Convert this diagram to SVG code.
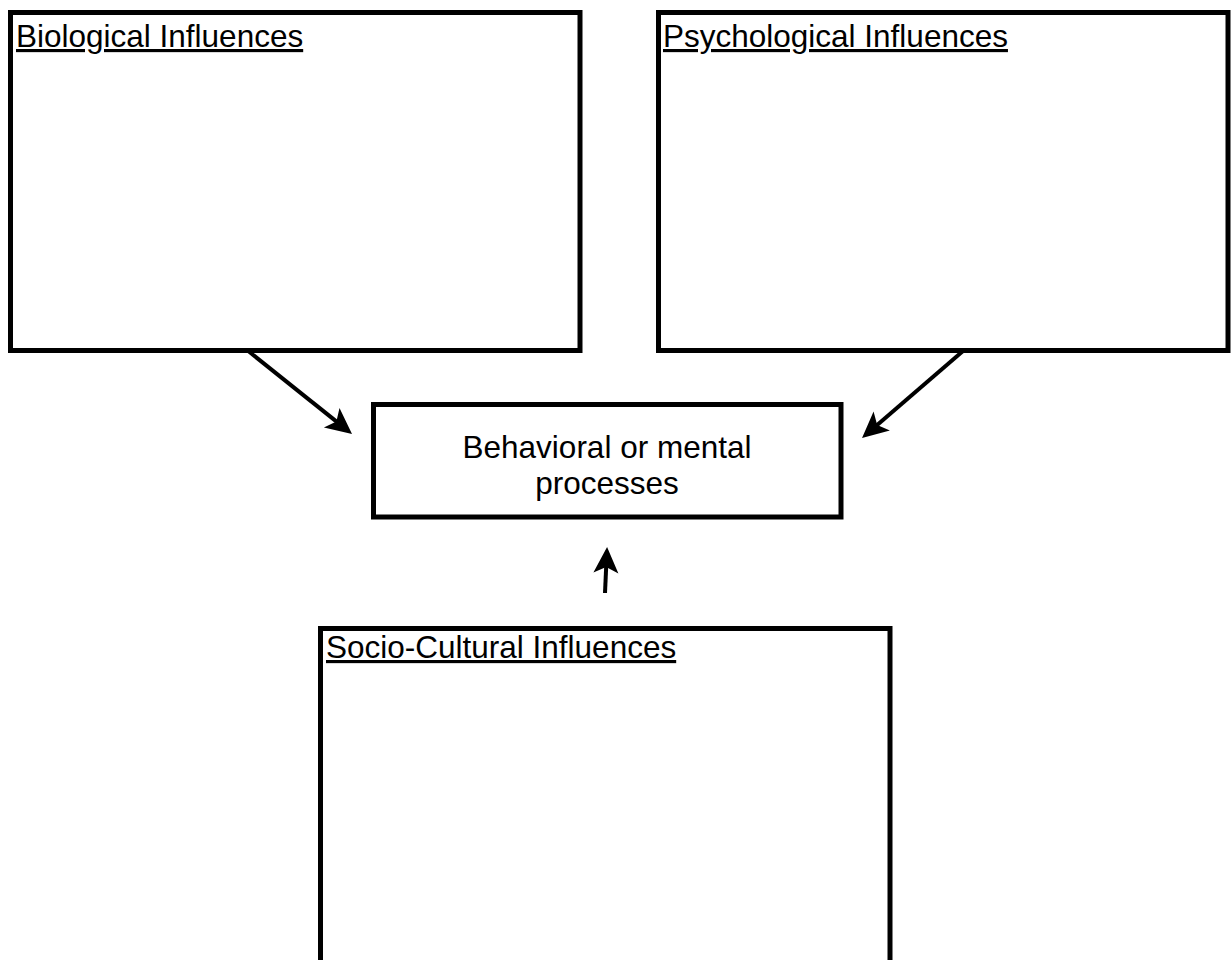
<svg xmlns="http://www.w3.org/2000/svg" width="1231" height="960" viewBox="0 0 1231 960">
<defs>
<style>
.box{fill:#fff;stroke:#000;stroke-width:5}
.title{font-family:"Liberation Sans",Arial,sans-serif;font-size:31.5px;fill:#000;text-decoration:underline}
.label{font-family:"Liberation Sans",Arial,sans-serif;font-size:31.5px;fill:#000;text-anchor:middle}
.conn{stroke:#000;stroke-width:4;fill:none;marker-end:url(#arrow)}
</style>
<marker id="arrow" markerUnits="userSpaceOnUse" markerWidth="40" markerHeight="40" viewBox="-15 -20 40 40" refX="0" refY="0" orient="auto" overflow="visible">
<path d="M15,0 L-11,-12.5 L-5,0 L-11,12.5 Z" fill="#000"/>
</marker>
</defs>
<rect width="1231" height="960" fill="#fff"/>
<g id="biological">
<rect class="box" x="10.5" y="12.5" width="569.5" height="338"/>
<text class="title" x="16" y="47">Biological Influences</text>
</g>
<g id="psychological">
<rect class="box" x="658.5" y="12.5" width="569.5" height="338"/>
<text class="title" x="663" y="47">Psychological Influences</text>
</g>
<g id="behavioral">
<rect class="box" x="373.5" y="404.5" width="467.5" height="112.5"/>
<text class="label" x="607" y="458">Behavioral or mental</text>
<text class="label" x="607" y="494">processes</text>
</g>
<g id="sociocultural">
<rect class="box" x="320.5" y="628.5" width="569.5" height="360"/>
<text class="title" x="326" y="658">Socio-Cultural Influences</text>
</g>
<g id="connectors">
<line class="conn" x1="247" y1="350" x2="340.3" y2="424.6"/>
<line class="conn" x1="963" y1="351" x2="873.4" y2="428.2"/>
<line class="conn" x1="605" y1="593" x2="606.4" y2="562"/>
</g>
</svg>
